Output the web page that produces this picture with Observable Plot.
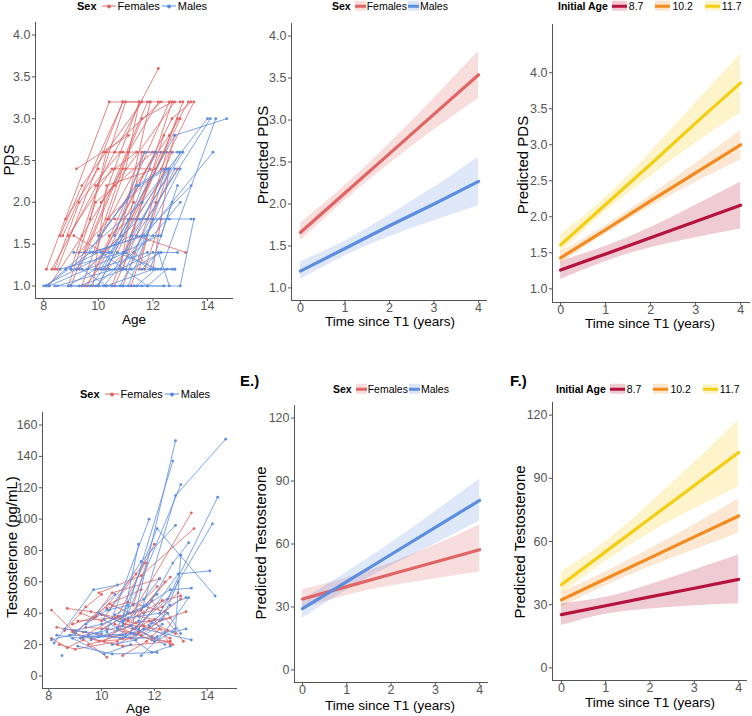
<!DOCTYPE html>
<html><head><meta charset="utf-8">
<script src="https://cdn.jsdelivr.net/npm/d3@7"></script>
<script src="https://cdn.jsdelivr.net/npm/@observablehq/plot@0.6"></script>
<style>
body{margin:0;background:#fff;font-family:"Liberation Sans",Arial,sans-serif;}
#root{position:relative;width:752px;height:716px;overflow:hidden;background:#fff;}
.t{position:absolute;white-space:nowrap;color:#000;line-height:1;}
.yt{font-size:15px;transform:translate(-50%,-50%) rotate(-90deg);}
.xt{font-size:13.5px;transform:translate(-50%,-50%);}
.lg{position:absolute;display:flex;align-items:center;font-size:10.5px;white-space:nowrap;transform:translateY(-50%);color:#000;line-height:1;}
.lg b{margin-right:3px;}
.swl{display:inline-block;width:14px;height:1px;background:var(--c);position:relative;margin:0 2px;}
.swl::after{content:"";position:absolute;left:5px;top:-1.5px;width:4px;height:4px;border-radius:50%;background:var(--c);}
.swr{display:inline-block;width:11px;height:10px;position:relative;margin:0 1px;}
.swr::before{content:"";position:absolute;inset:0;background:var(--c);opacity:0.22;}
.swr::after{content:"";position:absolute;left:0;right:0;top:3.5px;height:3px;background:var(--c);}
.tag{position:absolute;font-weight:bold;font-size:15px;transform:translateY(-50%);}
</style>
</head><body>
<div id="root"></div>
<script>
// ---------- DATA ----------
const sexLevels = ["Females", "Males"];
const initialAges = ["8.7", "10.2", "11.7"];
const timePoints = [0, 1, 2, 3, 4];

// Panel A: observed PDS trajectories, each [age, PDS]
const pdsFemales = [
 [[8.1,1.2],[10.4,3.2],[11.5,3.2]],
 [[8.3,1.2],[10.6,2.6],[12.2,3.6]],
 [[8.5,1.2],[10.9,3.2]],
 [[8.6,1.6],[9.4,2.2],[11.6,3.2]],
 [[8.8,1.8],[10.0,2.4]],
 [[8.7,1.6],[10.9,3.2],[11.9,3.2]],
 [[9.0,1.0],[11.5,3.2]],
 [[9.2,2.4],[11.1,2.8]],
 [[9.3,1.2],[11.6,3.0],[12.7,3.2]],
 [[9.4,1.0],[11.1,2.6],[12.2,3.2]],
 [[9.5,1.4],[11.8,3.2],[13.0,3.2]],
 [[9.6,1.0],[12.1,2.6],[12.7,3.2]],
 [[9.7,1.8],[10.3,2.6],[12.3,3.2]],
 [[9.9,1.2],[12.6,3.2]],
 [[9.9,2.2],[10.6,2.4],[11.4,2.6]],
 [[10.0,1.0],[12.4,2.6],[13.1,3.2]],
 [[10.1,1.6],[12.6,2.8],[13.3,3.2]],
 [[10.2,1.4],[12.7,3.0],[13.4,3.2]],
 [[10.3,1.8],[12.3,2.4],[13.5,3.2]],
 [[10.1,2.0],[10.6,2.2],[12.8,3.2]],
 [[10.6,1.0],[12.7,2.6]],
 [[10.7,1.4],[13.0,3.0]],
 [[11.4,1.6],[13.2,1.4]],
 [[8.9,1.0],[9.9,2.0],[12.0,2.6]],
 [[9.1,1.6],[10.2,1.4]],
 [[8.4,1.2],[9.3,2.0],[10.8,2.6]],
 [[9.8,1.0],[10.3,2.2],[12.1,2.4]],
 [[10.5,1.0],[11.4,1.8],[12.5,2.4]],
 [[10.9,1.2],[11.6,2.0],[12.9,3.0]],
 [[9.3,1.4],[10.4,1.8],[11.7,2.6]],
 [[10.4,1.6],[11.2,1.8],[12.3,2.6]],
 [[11.2,1.0],[12.6,2.4]],
 [[9.9,1.4],[11.0,2.4],[11.5,3.2]],
 [[10.8,1.2],[11.6,2.6],[12.7,2.6]],
 [[11.5,1.2],[12.1,2.0],[12.8,2.8]],
 [[8.2,1.0],[9.4,1.6],[10.9,2.4]],
 [[9.0,1.2],[10.0,2.2],[11.0,3.2]],
 [[10.2,2.6],[10.9,2.6],[12.1,2.6]],
 [[10.6,1.8],[11.8,1.8],[12.5,2.6]],
 [[11.3,1.4],[12.0,1.2],[12.6,2.4]],
 [[9.6,1.2],[10.8,1.6],[11.9,3.2]],
 [[10.9,1.0],[11.8,1.8],[12.9,2.4]],
 [[11.7,1.2],[12.3,1.8]],
 [[8.9,1.6],[10.5,2.4],[11.9,2.4]],
 [[9.5,1.0],[10.0,1.2],[11.3,2.0]],
 [[10.3,1.2],[11.0,1.4],[12.4,2.8]]
];
const pdsMales = [
 [[10.1,1.2],[12.8,2.8],[14.7,3.0]],
 [[8.1,1.0],[11.6,2.0],[14.0,3.0]],
 [[8.2,1.0],[11.0,1.4],[14.1,3.0]],
 [[8.4,1.0],[10.2,1.0],[14.2,2.6]],
 [[9.0,1.2],[12.3,1.2],[14.3,3.0]],
 [[8.5,1.0],[10.6,1.2],[13.0,2.6]],
 [[8.8,1.2],[11.2,1.6],[13.1,2.6]],
 [[9.1,1.4],[10.5,1.4],[12.6,2.4]],
 [[9.3,1.0],[11.0,1.2],[12.8,2.4]],
 [[11.3,1.0],[13.0,1.0],[13.5,1.8]],
 [[9.6,1.2],[11.5,1.8],[13.4,1.8]],
 [[9.8,1.4],[11.6,1.6],[13.4,2.2]],
 [[9.9,1.0],[12.0,1.6],[13.0,2.0]],
 [[10.0,1.6],[11.5,2.2],[12.5,2.4]],
 [[10.3,1.0],[12.0,1.2],[12.8,1.2]],
 [[10.4,1.2],[11.2,1.2],[12.3,1.4]],
 [[10.5,1.0],[11.1,1.0],[12.0,1.8]],
 [[10.8,1.2],[12.0,1.4],[12.9,1.4]],
 [[10.9,1.0],[12.4,1.0]],
 [[11.0,1.4],[11.9,1.2],[12.7,2.0]],
 [[11.2,1.6],[12.3,1.6],[12.9,2.2]],
 [[11.4,1.0],[12.1,1.2],[12.7,1.2]],
 [[8.6,1.2],[10.9,1.4],[12.2,1.6]],
 [[8.1,1.0],[9.7,1.4],[11.7,1.6]],
 [[8.9,1.0],[9.9,1.2],[11.8,1.4]],
 [[9.4,1.2],[10.3,1.0],[11.6,1.0]],
 [[9.7,1.0],[10.7,1.4],[12.2,1.2]],
 [[10.1,1.4],[11.8,1.0]],
 [[10.6,1.6],[11.7,2.6],[12.9,2.6]],
 [[10.2,1.2],[11.1,1.8],[12.6,1.8]],
 [[11.6,1.2],[12.2,1.4],[12.6,1.0]],
 [[9.0,1.0],[10.8,1.0],[13.0,2.4]],
 [[11.8,1.0],[12.5,1.2],[12.8,1.2]],
 [[9.2,1.2],[11.4,2.2],[12.4,2.4]],
 [[10.0,1.0],[10.9,1.6],[12.1,2.6]],
 [[8.0,1.0],[9.2,1.2],[10.4,1.4]]
];

// Panel D: observed testosterone trajectories, each [age, pg/mL]
const testoFemales = [
 [[8.1,42],[8.9,29],[10.2,12]],
 [[8.1,24],[8.7,18],[9.3,23]],
 [[8.4,20],[9.0,17],[10.6,22]],
 [[8.7,43],[9.6,41],[10.9,36]],
 [[8.6,29],[9.4,44],[10.0,52]],
 [[8.9,33],[9.8,38],[11.3,65]],
 [[9.0,28],[10.3,46],[11.5,55]],
 [[9.2,40],[10.0,35],[11.6,72]],
 [[9.3,25],[10.6,38],[12.0,84]],
 [[9.5,20],[10.7,26],[12.4,60]],
 [[9.7,37],[10.4,53],[12.2,62]],
 [[9.9,53],[11.5,64],[13.5,94]],
 [[10.0,30],[11.2,41],[13.4,104]],
 [[10.1,22],[11.0,35],[12.3,48]],
 [[10.3,26],[11.3,34],[12.6,37]],
 [[10.4,45],[11.1,40],[12.1,57]],
 [[10.5,33],[11.2,30],[12.7,20]],
 [[10.6,20],[11.4,28],[13.0,49]],
 [[10.7,38],[11.5,42],[12.6,63]],
 [[10.8,13],[11.7,22],[12.2,30]],
 [[10.9,27],[11.8,35],[12.8,27]],
 [[11.0,36],[11.9,48],[13.1,22]],
 [[11.1,24],[11.8,31],[12.6,24]],
 [[11.2,45],[11.7,72]],
 [[11.3,31],[12.3,48],[13.0,51]],
 [[9.4,31],[10.2,30],[11.4,27]],
 [[9.6,24],[10.8,19],[12.6,22]],
 [[8.9,28],[9.9,22],[11.9,25]],
 [[10.0,39],[10.9,33],[12.5,29]],
 [[11.4,38],[12.0,36],[12.6,20]],
 [[9.1,35],[10.5,37],[11.6,32]],
 [[11.5,26],[12.2,35],[13.2,41]],
 [[10.2,43],[11.0,47],[12.4,41]],
 [[8.3,31],[9.3,28],[10.8,24]],
 [[11.6,40],[12.3,44],[12.9,53]],
 [[10.6,31],[11.9,23],[12.6,22]]
];
const testoMales = [
 [[8.1,23],[9.0,27],[10.5,52]],
 [[8.2,21],[9.7,55],[10.6,58]],
 [[8.5,13]],
 [[8.3,26],[9.2,24],[10.8,26]],
 [[8.6,30],[9.4,28],[10.0,27]],
 [[8.9,24],[10.1,14],[11.1,20]],
 [[9.1,19],[10.4,14],[12.1,15]],
 [[9.3,25],[11.1,27],[12.8,150]],
 [[9.5,26],[10.8,32],[12.7,137]],
 [[9.8,27],[11.0,40],[13.0,122]],
 [[11.4,35],[12.8,115],[14.7,151]],
 [[10.2,28],[11.8,100]],
 [[10.3,42],[11.5,73],[12.8,96]],
 [[10.6,30],[12.1,94],[14.3,51]],
 [[10.8,35],[11.4,84]],
 [[10.9,25],[12.5,49],[14.4,114]],
 [[11.0,37],[12.2,40],[14.2,97]],
 [[11.2,27],[12.7,72],[13.3,85]],
 [[11.4,30],[12.9,65],[14.1,67]],
 [[11.5,13],[12.4,28],[13.3,50]],
 [[11.7,45],[12.6,55],[13.4,56]],
 [[9.9,40],[10.8,34],[12.1,52]],
 [[10.4,20],[11.3,23],[12.3,33]],
 [[9.0,29],[10.0,33],[11.6,44]],
 [[8.8,26],[9.9,25],[12.0,24]],
 [[10.7,24],[11.6,30],[13.4,23]],
 [[11.8,32],[12.5,40],[13.0,27]],
 [[12.0,22],[12.7,28],[13.2,30]],
 [[9.6,23],[11.1,32],[12.4,20]],
 [[10.1,36],[11.9,15],[12.6,19]],
 [[11.3,26],[12.3,36],[12.9,60]],
 [[12.1,25],[12.8,30],[13.0,77]],
 [[10.5,39],[11.6,49],[12.2,62]],
 [[11.9,34],[12.6,45],[13.2,50]],
 [[9.4,33],[10.2,42],[11.0,45]]
];

// Panel B: predicted PDS by sex (fit, lower, upper) at timePoints
const predPdsFemFit = [1.66, 2.13, 2.60, 3.07, 3.54];
const predPdsFemLo  = [1.56, 2.04, 2.48, 2.88, 3.26];
const predPdsFemHi  = [1.77, 2.22, 2.72, 3.26, 3.82];
const predPdsMalFit = [1.20, 1.47, 1.74, 2.00, 2.27];
const predPdsMalLo  = [1.10, 1.38, 1.61, 1.80, 1.98];
const predPdsMalHi  = [1.31, 1.56, 1.87, 2.20, 2.56];

// Panel C: predicted PDS by initial age
const predPdsAge87Fit  = [1.26, 1.485, 1.71, 1.935, 2.16];
const predPdsAge87Lo   = [1.13, 1.38, 1.57, 1.71, 1.83];
const predPdsAge87Hi   = [1.38, 1.59, 1.85, 2.16, 2.48];
const predPdsAge102Fit = [1.43, 1.82, 2.22, 2.61, 3.00];
const predPdsAge102Lo  = [1.35, 1.76, 2.14, 2.48, 2.79];
const predPdsAge102Hi  = [1.51, 1.88, 2.30, 2.74, 3.20];
const predPdsAge117Fit = [1.61, 2.17, 2.73, 3.30, 3.86];
const predPdsAge117Lo  = [1.49, 2.07, 2.56, 3.02, 3.44];
const predPdsAge117Hi  = [1.75, 2.27, 2.90, 3.58, 4.26];

// Panel E: predicted testosterone by sex
const predTFemFit = [33.8, 39.7, 45.6, 51.4, 57.3];
const predTFemLo  = [29.2, 35.5, 40.0, 43.5, 46.6];
const predTFemHi  = [38.2, 43.8, 51.0, 59.5, 69.0];
const predTMalFit = [29.2, 42.1, 55.0, 67.9, 80.8];
const predTMalLo  = [24.5, 38.0, 49.5, 60.0, 71.0];
const predTMalHi  = [33.2, 46.5, 60.5, 75.5, 90.8];

// Panel F: predicted testosterone by initial age
const predTAge87Fit  = [25.3, 29.5, 33.7, 37.8, 42.0];
const predTAge87Lo   = [20.1, 25.5, 28.0, 29.5, 30.4];
const predTAge87Hi   = [30.4, 33.5, 39.5, 46.5, 53.6];
const predTAge102Fit = [32.3, 42.3, 52.2, 62.2, 72.1];
const predTAge102Lo  = [28.8, 39.0, 48.0, 56.0, 63.9];
const predTAge102Hi  = [35.9, 45.5, 56.5, 68.0, 80.2];
const predTAge117Fit = [39.5, 55.2, 70.9, 86.6, 102.3];
const predTAge117Lo  = [35.1, 50.5, 64.0, 75.5, 86.0];
const predTAge117Hi  = [45.4, 60.0, 78.0, 97.5, 117.6];

// tick labels
const ageTicks = [8, 10, 12, 14];
const timeTicks = [0, 1, 2, 3, 4];
const pdsTicks = [1.0, 1.5, 2.0, 2.5, 3.0, 3.5, 4.0];
const testoTicks = [0, 20, 40, 60, 80, 100, 120, 140, 160];
const predTestoTicks = [0, 30, 60, 90, 120];

// ---------- RENDER ----------
const colF = "#E06464", colM = "#5B8DE0";
const ageCols = ["#B5123C", "#F28A1E", "#F5CE12"];
const axisCol = "#555555";
const root = document.getElementById("root");

function flat(list, key) {
  const out = [];
  list.forEach((t, i) => t.forEach(p => out.push({id: key + i, x: p[0], y: p[1]})));
  return out;
}
function band(fit, lo, hi) {
  return timePoints.map((t, i) => ({x: t, fit: fit[i], lo: lo[i], hi: hi[i]}));
}
const intFmt = d => String(d);
function axes(xd, yd, xt, yt, yfmt) {
  return [
    Plot.ruleX([xd[0]], {stroke: axisCol, strokeWidth: 1}),
    Plot.ruleY([yd[0]], {stroke: axisCol, strokeWidth: 1}),
    Plot.axisX({ticks: xt, tickSize: 3, tickPadding: 0, label: null, tickFormat: intFmt}),
    Plot.axisY({ticks: yt, tickSize: 3, tickPadding: 2, label: null, tickFormat: yfmt || intFmt})
  ];
}
function mkPlot(o, marks) {
  const svg = Plot.plot({
    width: o.w, height: o.h,
    marginLeft: o.ml, marginRight: o.mr, marginTop: o.mt, marginBottom: o.mb,
    x: {domain: o.xd, type: "linear"},
    y: {domain: o.yd, type: "linear"},
    style: {fontFamily: '"Liberation Sans", Arial, sans-serif', fontSize: "12.5px", color: axisCol, background: "transparent", overflow: "visible"},
    marks: marks.concat(axes(o.xd, o.yd, o.xt, o.yt, o.fmt))
  });
  svg.style.position = "absolute";
  svg.style.left = o.left + "px";
  svg.style.top = o.top + "px";
  root.appendChild(svg);
}
function spaghettiMarks(F, M) {
  const f = flat(F, "f"), m = flat(M, "m");
  return [
    Plot.line(f, {x: "x", y: "y", z: "id", stroke: colF, strokeWidth: 0.8}),
    Plot.dot(f, {x: "x", y: "y", r: 1.4, fill: colF}),
    Plot.line(m, {x: "x", y: "y", z: "id", stroke: colM, strokeWidth: 0.8}),
    Plot.dot(m, {x: "x", y: "y", r: 1.4, fill: colM})
  ];
}
function ribbonMarks(bands, cols, ops) {
  const ms = [];
  bands.forEach((b, i) => ms.push(Plot.areaY(b, {x: "x", y1: "lo", y2: "hi", fill: cols[i], fillOpacity: ops[i], curve: "natural"})));
  bands.forEach((b, i) => ms.push(Plot.line(b, {x: "x", y: "fit", stroke: cols[i], strokeWidth: 3.2})));
  return ms;
}
function text(s, x, y, cls) {
  const d = document.createElement("div");
  d.className = "t " + cls;
  d.textContent = s;
  d.style.left = x + "px"; d.style.top = y + "px";
  root.appendChild(d);
}
function tag(s, x, y) {
  const d = document.createElement("div");
  d.className = "tag"; d.textContent = s;
  d.style.left = x + "px"; d.style.top = y + "px";
  root.appendChild(d);
}
function legend(x, y, title, labels, cols, kind, fs, gaps, swW) {
  const d = document.createElement("div");
  d.className = "lg";
  d.style.left = x + "px"; d.style.top = y + "px";
  d.style.fontSize = fs + "px";
  const b = document.createElement("b"); b.textContent = title; d.appendChild(b);
  labels.forEach((l, i) => {
    const s = document.createElement("span");
    s.className = kind; s.style.setProperty("--c", cols[i]);
    if (gaps && i > 0) s.style.marginLeft = gaps + "px";
    if (swW) { s.style.width = swW + "px"; s.style.marginRight = "2px"; }
    d.appendChild(s);
    const t = document.createElement("span"); t.textContent = l; d.appendChild(t);
  });
  root.appendChild(d);
}

// Panel A
mkPlot({left: 0, top: 16, w: 245, h: 322, ml: 35, mr: 12, mt: 6, mb: 40,
  xd: [7.7, 14.95], yd: [0.85, 4.15], xt: ageTicks, yt: pdsTicks, fmt: ".1f"},
  spaghettiMarks(pdsFemales, pdsMales));
legend(77, 6, "Sex", sexLevels, [colF, colM], "swl", 11);
text("PDS", 8, 160, "yt");
text("Age", 134, 320, "xt");

// Panel B
mkPlot({left: 250, top: 16, w: 245, h: 322, ml: 41, mr: 8, mt: 7, mb: 38,
  xd: [-0.2, 4.2], yd: [0.85, 4.15], xt: timeTicks, yt: pdsTicks, fmt: ".1f"},
  ribbonMarks([band(predPdsFemFit, predPdsFemLo, predPdsFemHi), band(predPdsMalFit, predPdsMalLo, predPdsMalHi)], [colF, colM], [0.22, 0.2]));
legend(332, 6, "Sex", sexLevels, [colF, colM], "swr", 10.5);
text("Predicted PDS", 262, 155, "yt");
text("Time since T1 (years)", 390, 322, "xt");

// Panel C
mkPlot({left: 500, top: 16, w: 252, h: 322, ml: 52, mr: 2, mt: 8, mb: 36,
  xd: [-0.18, 4.22], yd: [0.81, 4.67], xt: timeTicks, yt: pdsTicks, fmt: ".1f"},
  ribbonMarks([band(predPdsAge87Fit, predPdsAge87Lo, predPdsAge87Hi), band(predPdsAge102Fit, predPdsAge102Lo, predPdsAge102Hi), band(predPdsAge117Fit, predPdsAge117Lo, predPdsAge117Hi)], ageCols, [0.22, 0.2, 0.22]));
legend(558, 6, "Initial Age", initialAges, ageCols, "swr", 10.5, 12, 15);
text("Predicted PDS", 522, 165, "yt");
text("Time since T1 (years)", 650, 324, "xt");

// Panel D
mkPlot({left: 0, top: 400, w: 245, h: 316, ml: 42, mr: 8, mt: 12, mb: 28,
  xd: [7.76, 15.15], yd: [-8, 168], xt: ageTicks, yt: testoTicks},
  spaghettiMarks(testoFemales, testoMales));
legend(80, 394, "Sex", sexLevels, [colF, colM], "swl", 11);
text("Testosterone (pg/mL)", 11, 547, "yt");
text("Age", 138, 709, "xt");

// Panel E
mkPlot({left: 250, top: 398, w: 245, h: 318, ml: 44, mr: 7, mt: 7, mb: 34,
  xd: [-0.18, 4.2], yd: [-6, 126], xt: timeTicks, yt: predTestoTicks},
  ribbonMarks([band(predTFemFit, predTFemLo, predTFemHi), band(predTMalFit, predTMalLo, predTMalHi)], [colF, colM], [0.22, 0.2]));
legend(333, 389, "Sex", sexLevels, [colF, colM], "swr", 10.5);
text("Predicted Testosterone", 260, 543, "yt");
text("Time since T1 (years)", 390, 706, "xt");
tag("E.)", 240, 380);

// Panel F
mkPlot({left: 500, top: 396, w: 252, h: 320, ml: 52, mr: 5, mt: 6, mb: 36,
  xd: [-0.2, 4.2], yd: [-6, 126], xt: timeTicks, yt: predTestoTicks},
  ribbonMarks([band(predTAge87Fit, predTAge87Lo, predTAge87Hi), band(predTAge102Fit, predTAge102Lo, predTAge102Hi), band(predTAge117Fit, predTAge117Lo, predTAge117Hi)], ageCols, [0.22, 0.2, 0.22]));
legend(556, 389, "Initial Age", initialAges, ageCols, "swr", 10.5, 12, 15);
text("Predicted Testosterone", 519, 542, "yt");
text("Time since T1 (years)", 650, 703, "xt");
tag("F.)", 510, 380);
</script>
</body></html>
